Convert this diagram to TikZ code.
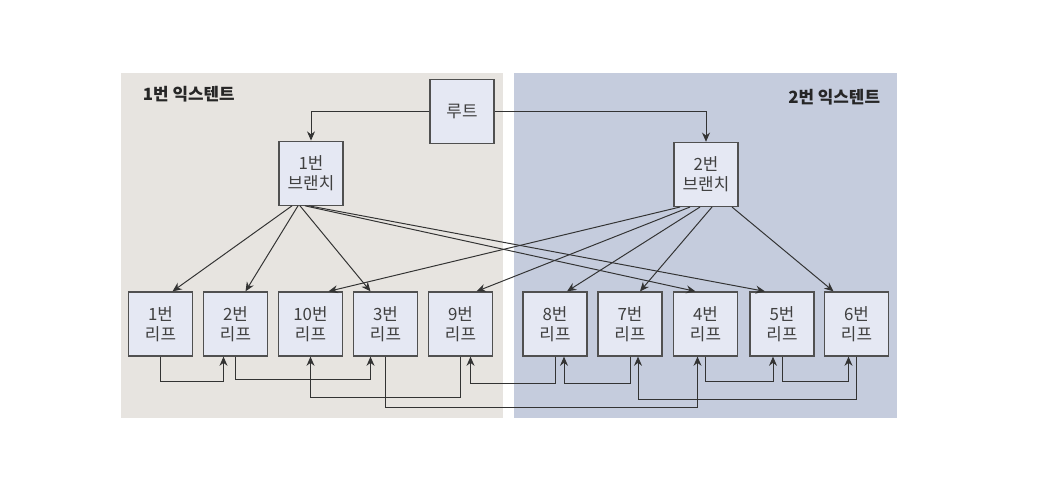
\documentclass[tikz,border=0pt]{standalone}
\usepackage{fontspec}
\usepackage{tikz}
\usetikzlibrary{arrows.meta}
\setmainfont{Noto Sans CJK KR}
\definecolor{extleft}{RGB}{231,228,224}
\definecolor{extright}{RGB}{197,204,221}
\definecolor{boxfill}{RGB}{229,232,243}
\definecolor{boxline}{RGB}{80,80,80}
\tikzset{
  treebox/.style={draw=boxline,fill=boxfill,line width=0.9pt,minimum width=1.6cm,minimum height=1.6cm,
    inner sep=0pt,align=center,text=black!75,font=\fontsize{12}{14}\selectfont},
  link/.style={->,>={Stealth[length=2.3mm,width=2mm]},draw=black!80,line width=0.7pt},
  exttitle/.style={font=\bfseries\fontsize{12}{14}\selectfont,text=black!85}
}

\begin{document}
\begin{tikzpicture}
	\useasboundingbox (0,0) rectangle (26.2,-12.075);
	\fill[extleft] (3.025,-1.825) rectangle (12.575,-10.45);
	\fill[extright] (12.85,-1.825) rectangle (22.425,-10.45);
	\node[exttitle,anchor=west] (t1) at (3.45,-2.35) {1번 익스텐트};
	\node[exttitle,anchor=east] (t2) at (22.125,-2.42) {2번 익스텐트};
	%
	\node[treebox] (root) at (11.55,-2.79) {루트};
	\node[treebox] (b1) at (7.775,-4.33) {1번\\브랜치};
	\node[treebox] (b2) at (17.65,-4.36) {2번\\브랜치};
	\foreach \n/\x in {1/4.0125, 2/5.8875, 10/7.7625, 3/9.6375, 9/11.5125, 8/13.875, 7/15.75, 4/17.6375, 5/19.55, 6/21.4125}
		\node[treebox] (l\n) at (\x,-8.1) {{\n}번\\리프};
	%
	\draw[link] (root.west) -| (b1.north);
	\draw[link] (root.east) -| (b2.north);
	\foreach \leaf/\from/\to in {1/-0.475cm/0.3cm, 2/-0.325cm/0.25cm, 3/-0.275cm/-0.375cm, 4/-0.15cm/-0.25cm, 5/-0.05cm/-0.425cm}
		\draw[link] ([xshift=\from]b1.south) -- ([xshift=\to]l\leaf.north);
	\foreach \leaf/\from/\to in {10/-0.65cm/0.45cm, 9/-0.4cm/0.4cm, 8/-0.15cm/0.3cm, 7/0.15cm/0.25cm, 6/0.65cm/-0.575cm}
		\draw[link] ([xshift=\from]b2.south) -- ([xshift=\to]l\leaf.north);
	%
	\draw[link] (l1.south) -- ++(0,-0.625) -| ([xshift=-0.3cm]l2.south);
	\draw[link] (l2.south) -- ++(0,-0.575) -| ([xshift=-0.375cm]l3.south);
	\draw[link] (l3.south) -- ++(0,-1.275) -| ([xshift=-0.2cm]l4.south);
	\draw[link] (l4.south) -- ++(0,-0.625) -| ([xshift=-0.225cm]l5.south);
	\draw[link] (l5.south) -- ++(0,-0.625) -| ([xshift=-0.2cm]l6.south);
	\draw[link] (l6.south) -- ++(0,-1.075) -| ([xshift=0.2cm]l7.south);
	\draw[link] (l7.south) -- ++(0,-0.675) -| ([xshift=0.225cm]l8.south);
	\draw[link] (l8.south) -- ++(0,-0.675) -| ([xshift=0.25cm]l9.south);
	\draw[link] (l9.south) -- ++(0,-1.025) -| (l10.south);
\end{tikzpicture}
\end{document}
